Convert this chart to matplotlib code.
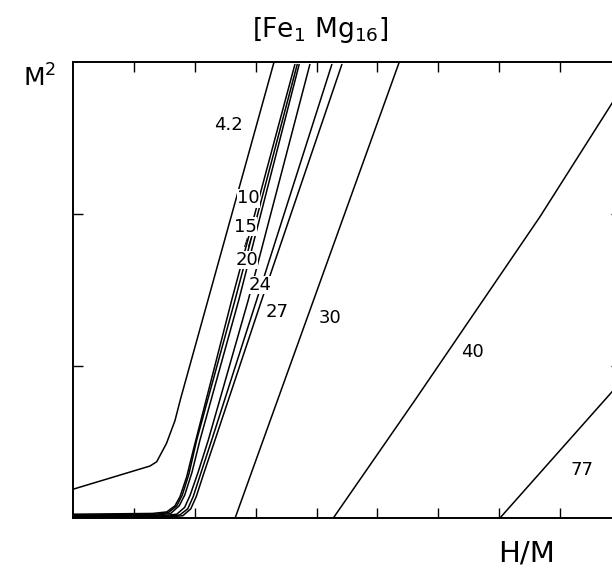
import matplotlib
matplotlib.use("Agg")
import matplotlib.pyplot as plt

# ---- data (x = H/M, y = M^2, arbitrary units) ----
c42_x = [0.0, 1.26, 1.37, 1.53, 1.67, 1.76, 3.30]
c42_y = [0.19, 0.342, 0.37, 0.49, 0.64, 0.78, 3.0]

cA_x = [0.0, 0.8, 1.3, 1.535, 1.67, 1.753, 1.864, 1.972, 2.604, 3.645]
cA_y = [0.025, 0.028, 0.03, 0.04, 0.08, 0.14, 0.272, 0.447, 1.434, 2.987]

cB_x = [0.0, 1.3, 1.56, 1.70, 1.79, 1.90, 2.028, 2.658, 3.683]
cB_y = [0.02, 0.022, 0.035, 0.08, 0.15, 0.29, 0.513, 1.434, 2.987]

cC_x = [0.0, 1.35, 1.60, 1.74, 1.83, 1.95, 2.082, 2.72, 3.715]
cC_y = [0.016, 0.018, 0.03, 0.08, 0.15, 0.30, 0.513, 1.434, 2.987]

cD_x = [0.0, 1.45, 1.70, 1.83, 1.92, 2.05, 2.219, 2.876, 3.891]
cD_y = [0.012, 0.014, 0.025, 0.07, 0.15, 0.30, 0.513, 1.434, 2.987]

cE_x = [0.0, 1.50, 1.75, 1.88, 1.97, 2.10, 2.275, 3.014, 4.253]
cE_y = [0.008, 0.01, 0.02, 0.06, 0.14, 0.30, 0.513, 1.434, 2.987]

cF_x = [0.0, 1.55, 1.80, 1.93, 2.02, 2.15, 2.329, 3.097, 4.418]
cF_y = [0.004, 0.006, 0.015, 0.06, 0.14, 0.30, 0.513, 1.434, 2.987]

c30_x = [2.66, 5.36]
c30_y = [0.0, 3.0]

c40_x = [4.275, 5.619, 7.674, 8.858, 9.0]
c40_y = [0.0, 0.776, 1.982, 2.728, 2.82]

c77_x = [7.016, 8.858, 9.0]
c77_y = [0.0, 0.83, 0.894]

labels = ["4.2", "10", "15", "20", "24", "27", "30", "40", "77"]
label_x = [2.548, 2.877, 2.822, 2.85, 3.069, 3.344, 4.22, 6.556, 8.36]
label_y = [2.586, 2.103, 1.916, 1.697, 1.533, 1.357, 1.314, 1.092, 0.316]

x_ticks = [1, 2, 3, 4, 5, 6, 7, 8]
y_ticks = [1, 2]

# ---- figure ----
fig = plt.figure(figsize=(6.12, 5.71), dpi=100)
W, H = 612.0, 571.0
x0, x1 = 73.4, 620.6
y0, y1 = 518.0, 62.0
ax = fig.add_axes([x0 / W, 1 - y0 / H, (x1 - x0) / W, (y0 - y1) / H])
ax.set_xlim(0, 9)
ax.set_ylim(0, 3)

lw = 1.1
for xs, ys in [(c42_x, c42_y), (cA_x, cA_y), (cB_x, cB_y), (cC_x, cC_y),
               (cD_x, cD_y), (cE_x, cE_y), (cF_x, cF_y),
               (c30_x, c30_y), (c40_x, c40_y), (c77_x, c77_y)]:
    ax.plot(xs, ys, color="black", lw=lw, solid_capstyle="butt", clip_on=True)

font = ["DejaVu Sans"]
for t, lx, ly in zip(labels, label_x, label_y):
    bb = None
    if t in ("10", "15", "20", "24"):
        bb = dict(facecolor="white", edgecolor="none", pad=0.3)
    ax.text(lx, ly, t, ha="center", va="center", fontsize=13,
            family=font, bbox=bb, zorder=5)
ax.text(2.86, 1.81, "//", ha="center", va="center", fontsize=8, family=font, zorder=5)

ax.set_xticks(x_ticks)
ax.set_yticks(y_ticks)
ax.tick_params(direction="in", length=7, width=1.0, top=True, right=True,
               labelbottom=False, labelleft=False)
for s in ax.spines.values():
    s.set_linewidth(1.4)

fig.text(320 / W, 1 - 30 / H, r"[Fe$_1$ Mg$_{16}$]", ha="center", va="center",
         fontsize=19, family=font)
fig.text(40 / W, 1 - 78 / H, r"M$^2$", ha="center", va="center",
         fontsize=18, family=font)
fig.text(527 / W, 1 - 553 / H, "H/M", ha="center", va="center",
         fontsize=21, family=font)

fig.savefig("out.png", dpi=100)
